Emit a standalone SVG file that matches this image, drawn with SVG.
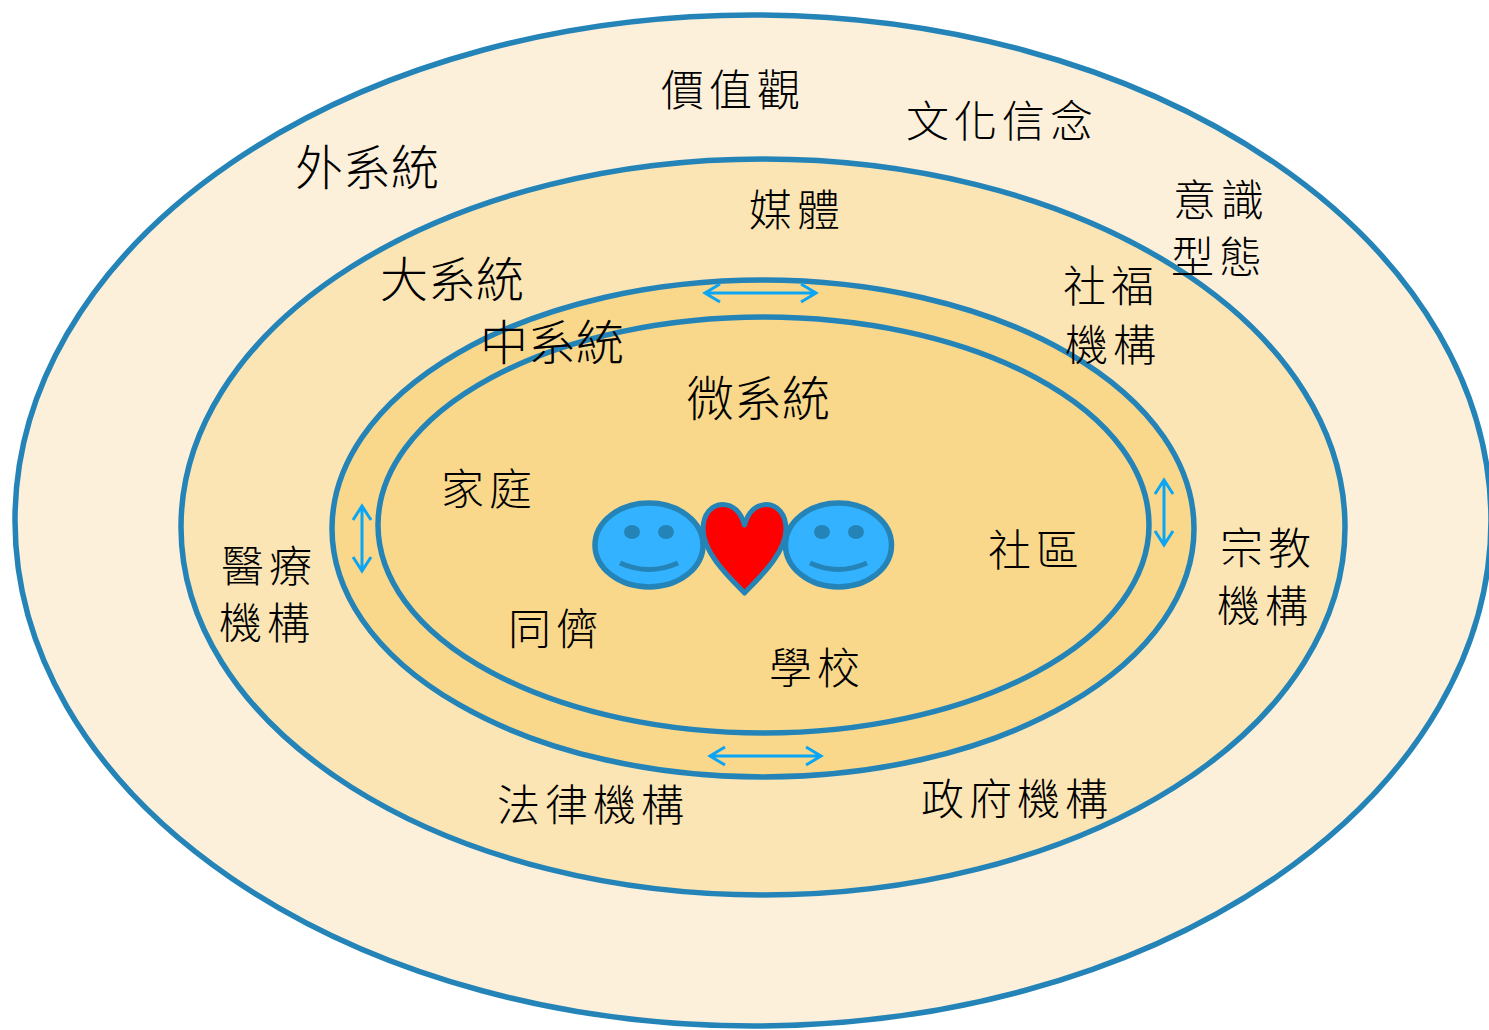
<svg xmlns="http://www.w3.org/2000/svg" width="1489" height="1030" viewBox="0 0 1489 1030">
<style>
.e{stroke:#2484B8;stroke-width:5.500}
.t{font-family:"Noto Sans CJK TC","Noto Sans CJK SC",sans-serif;font-weight:300;fill:#000;text-anchor:start}
.b{font-size:48px}
.m{font-size:43px;letter-spacing:5px}
.f{fill:#2484B8}
.d{fill:none;stroke:#2484B8;stroke-width:5}
.a{fill:none;stroke:#0AA5F5;stroke-width:3}
</style>
<rect width="1489" height="1030" fill="#fff"/>
<g id="exosystem-outer"><ellipse class="e" cx="753" cy="520.500" rx="738" ry="505.500" fill="#FDF0DA"/></g>
<g id="macro"><ellipse class="e" cx="763" cy="527" rx="582" ry="368" fill="#FBE5B5"/></g>
<g id="meso"><ellipse class="e" cx="763" cy="528.500" rx="431" ry="248.500" fill="#F9D88C"/></g>
<g id="micro"><ellipse class="e" cx="763.500" cy="525" rx="385.500" ry="208" fill="#F9D88C"/></g>
<g id="labels">
<text class="t m" x="661" y="106">價值觀</text>
<text class="t m" x="906" y="137">文化信念</text>
<text class="t b" x="295" y="185">外系統</text>
<text class="t m" x="1173" y="216">意識</text>
<text class="t m" x="1171" y="273">型態</text>
<text class="t m" x="749" y="226">媒體</text>
<text class="t b" x="380" y="297">大系統</text>
<text class="t m" x="1063" y="302">社福</text>
<text class="t m" x="1065" y="361">機構</text>
<text class="t b" x="480" y="360">中系統</text>
<text class="t b" x="686" y="416">微系統</text>
<text class="t m" x="441" y="505">家庭</text>
<text class="t m" x="988" y="566">社區</text>
<text class="t m" x="1220" y="564">宗教</text>
<text class="t m" x="1217" y="622">機構</text>
<text class="t m" x="221" y="582">醫療</text>
<text class="t m" x="219" y="639">機構</text>
<text class="t m" x="508" y="645">同儕</text>
<text class="t m" x="769" y="684">學校</text>
<text class="t m" x="497" y="821">法律機構</text>
<text class="t m" x="921" y="815">政府機構</text>
</g>
<g id="smiley-left">
<ellipse class="e" cx="649" cy="545" rx="54" ry="42" fill="#33B2FF"/>
<ellipse class="f" cx="632" cy="532" rx="8" ry="7"/><ellipse class="f" cx="666" cy="532" rx="8" ry="7"/>
<path class="d" d="M620 563Q649 576 678 563"/>
</g>
<g id="smiley-right">
<ellipse class="e" cx="838.500" cy="545" rx="53" ry="42" fill="#33B2FF"/>
<ellipse class="f" cx="822" cy="532" rx="8" ry="7"/><ellipse class="f" cx="856" cy="532" rx="8" ry="7"/>
<path class="d" d="M810 563Q838 576 867 563"/>
</g>
<g id="heart">
<path d="M744.500 593C730 578 703 553 703 529C703 514 712 504.500 722.500 504.500C733 504.500 741 512 744.500 525C748 512 756 504.500 766.500 504.500C777 504.500 786 514 786 529C786 553 759 578 744.500 593Z" fill="#F00" stroke="#2484B8" stroke-width="5" stroke-linejoin="round"/>
</g>
<g id="connectors">
<path class="a" d="M705 293H816M720 284L705 293L720 302M801 284L816 293L801 302"/>
<path class="a" d="M710 756H821M725 747L710 756L725 765M806 747L821 756L806 765"/>
<path class="a" d="M362 506V571M353 520L362 506L371 520M353 557L362 571L371 557"/>
<path class="a" d="M1164 480V545M1155 494L1164 480L1173 494M1155 531L1164 545L1173 531"/>
</g>
</svg>
